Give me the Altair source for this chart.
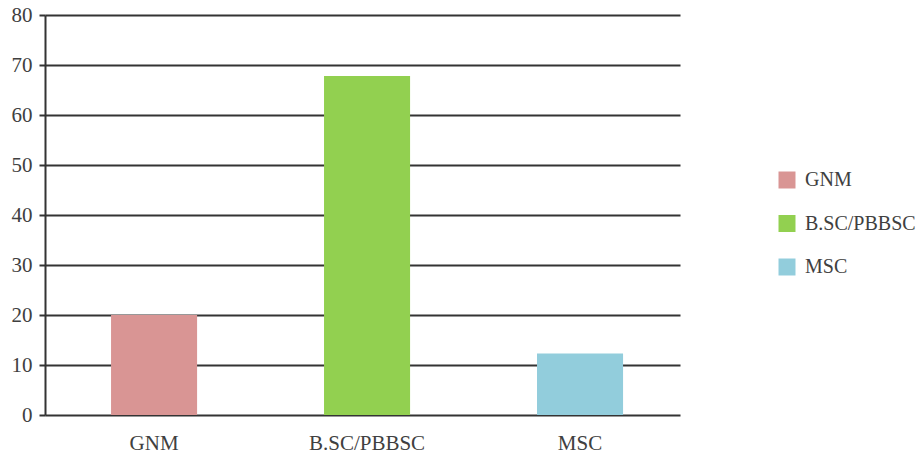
import altair as alt
import pandas as pd

categories = ["GNM", "B.SC/PBBSC", "MSC"]
values = [20.0, 67.8, 12.3]
colors = ["#d99594", "#92d050", "#92cddc"]
y_ticks = [0, 10, 20, 30, 40, 50, 60, 70, 80]

df = pd.DataFrame({"category": categories, "value": values})

FONT = "Liberation Serif"
TXT = "#404040"
LINE = "#333333"

chart = alt.Chart(df).mark_bar().encode(
    x=alt.X(
        "category:N",
        sort=categories,
        title=None,
        scale=alt.Scale(paddingInner=0.596, paddingOuter=0.2887, align=0.537),
        axis=alt.Axis(labelAngle=0, ticks=False, domain=False, grid=False,
                      labelPadding=17, labelFontSize=21, labelFont=FONT,
                      labelColor=TXT),
    ),
    y=alt.Y(
        "value:Q",
        title=None,
        scale=alt.Scale(domain=[0, 80], nice=False),
        axis=alt.Axis(values=y_ticks, grid=True, gridColor=LINE, gridWidth=2,
                      gridOpacity=1, tickSize=6, tickWidth=2, tickColor=LINE,
                      domainColor=LINE, domainWidth=2, labelPadding=7,
                      labelFontSize=21, labelFont=FONT, labelColor=TXT),
    ),
    color=alt.Color(
        "category:N",
        sort=categories,
        scale=alt.Scale(domain=categories, range=colors),
        legend=alt.Legend(title=None, orient="none", legendX=732, legendY=155,
                          symbolType="square", symbolSize=289, symbolStrokeWidth=0,
                          symbolOpacity=1, labelFont=FONT, labelFontSize=20,
                          labelColor=TXT, labelOffset=8, rowPadding=23.5, padding=0,
                          labelLimit=200),
    ),
).properties(
    width=635, height=400,
    background="white",
    autosize=alt.AutoSizeParams(type="none"),
    padding={"left": 45, "top": 15, "right": 242, "bottom": 40},
).configure_view(stroke=None)

chart.save("out.html", embed_options={"renderer": "svg", "actions": False})
